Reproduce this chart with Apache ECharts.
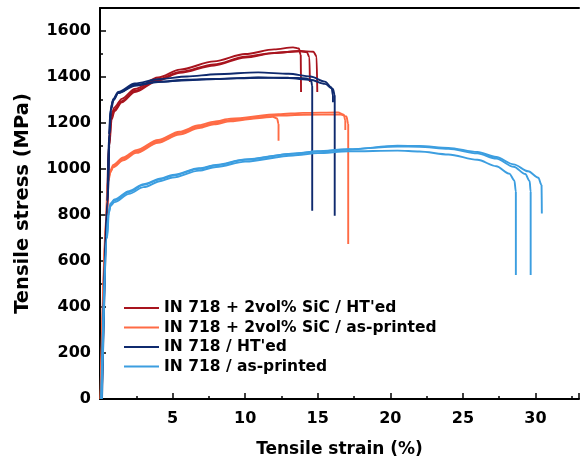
<!DOCTYPE html>
<html><head><meta charset="utf-8">
<script src="https://cdn.jsdelivr.net/npm/echarts@6/dist/echarts.min.js"></script>
<style>html,body{margin:0;padding:0;background:#fff}#c{width:582px;height:463px}</style>
</head><body><div id="c"></div>
<script>
const legendNames = ["IN 718 + 2vol% SiC / HT'ed","IN 718 + 2vol% SiC / as-printed","IN 718 / HT'ed","IN 718 / as-printed"];
const xTicks = [5,10,15,20,25,30];
const yTicks = [0,200,400,600,800,1000,1200,1400,1600];

// IN 718 + 2vol% SiC / HT'ed
const sicHT1 = [[0.05,0],[0.45,800],[0.6,1100],[0.75,1230],[1,1268],[1.5,1305],[2.4,1348],[4,1398],[5.5,1432],[7.86,1468],[10,1500],[12,1520],[13.3,1529],[13.7,1524],[13.83,1495],[13.85,1335]];
const sicHT2 = [[0.08,0],[0.48,800],[0.62,1100],[0.78,1220],[1,1258],[1.5,1295],[2.4,1340],[4,1390],[5.5,1422],[7.86,1455],[10,1488],[12,1505],[13.8,1512],[14.25,1508],[14.43,1485],[14.46,1378]];
const sicHT3 = [[0.1,0],[0.5,800],[0.64,1100],[0.8,1215],[1,1252],[1.5,1290],[2.4,1335],[4,1385],[5.5,1418],[7.86,1450],[10,1485],[12,1504],[13.8,1513],[14.7,1510],[14.92,1490],[14.97,1335]];
// IN 718 + 2vol% SiC / as-printed
const sicAP1 = [[0.03,0],[0.42,800],[0.52,940],[0.7,985],[0.91,1008],[1.6,1038],[2.5,1070],[4,1114],[5.46,1150],[6.83,1178],[7.86,1194],[9,1207],[11,1222],[11.9,1227],[12.2,1220],[12.3,1195],[12.3,1123]];
const sicAP2 = [[0.05,0],[0.44,800],[0.54,950],[0.72,995],[0.91,1018],[1.6,1050],[2.5,1082],[4,1126],[5.46,1162],[6.83,1190],[7.86,1206],[9,1219],[12.3,1238],[14,1244],[16.4,1246],[16.8,1236],[16.9,1210],[16.9,1170]];
const sicAP3 = [[0.07,0],[0.46,800],[0.56,945],[0.74,990],[0.91,1012],[1.6,1044],[2.5,1076],[4,1120],[5.46,1156],[6.83,1184],[7.86,1200],[9,1213],[12.3,1232],[14,1236],[16.6,1237],[16.98,1228],[17.1,1195],[17.1,674]];
// IN 718 / HT'ed
const htA = [[0.1,0],[0.5,860],[0.62,1150],[0.72,1255],[0.9,1300],[1.25,1330],[2.4,1366],[4,1380],[6,1388],[8,1392],[10.9,1398],[13,1397],[14.2,1394],[14.55,1385],[14.62,1360],[14.62,818]];
const htB = [[0.12,0],[0.52,860],[0.64,1150],[0.74,1262],[0.92,1305],[1.25,1335],[2.4,1372],[4,1390],[6,1402],[8,1412],[10.9,1420],[13,1414],[14.5,1402],[15.5,1380],[15.95,1355],[16.05,1320],[16.05,1290]];
const htC = [[0.14,0],[0.54,860],[0.66,1150],[0.76,1258],[0.94,1300],[1.25,1330],[2.4,1362],[4,1378],[6,1386],[8,1391],[10.9,1397],[13,1395],[14.5,1388],[15.5,1370],[16.05,1348],[16.17,1320],[16.17,797]];
// IN 718 / as-printed
const apA = [[0.08,0],[0.45,700],[0.57,800],[0.7,838],[1,856],[2,892],[3,921],[4.2,948],[5,963],[6.83,993],[8,1009],[10,1032],[13.3,1059],[15,1069],[17.1,1077],[20.5,1080],[22,1076],[24,1063],[26,1040],[27.3,1012],[28.2,980],[28.55,950],[28.65,900],[28.65,539]];
const apB = [[0.1,0],[0.47,700],[0.59,810],[0.72,850],[1,868],[2,904],[3,934],[4.2,959],[5,974],[6.83,1003],[8,1018],[10,1042],[13.3,1067],[15,1077],[17.1,1086],[20.5,1098],[22,1097],[24,1088],[26,1068],[27.3,1045],[28.5,1010],[29.3,978],[29.6,948],[29.67,900],[29.67,539]];
const apC = [[0.12,0],[0.49,700],[0.61,808],[0.74,846],[1,864],[2,900],[3,931],[4.2,956],[5,971],[6.83,1001],[8,1016],[10,1040],[13.3,1066],[15,1076],[17.1,1085],[20.5,1101],[22,1100],[24,1092],[26,1074],[27.3,1052],[28.5,1020],[29.5,990],[30.2,962],[30.42,930],[30.44,807]];

const colors = ['#a8141e','#ff6b45','#0f2a6e','#3c9ee0'];
const groups = [[sicHT1,sicHT2,sicHT3],[sicAP1,sicAP2,sicAP3],[htA,htB,htC],[apA,apB,apC]];
const series = [];
groups.forEach((g,gi)=>{
  g.forEach(d=>{
    series.push({type:'line',name:legendNames[gi],data:d,showSymbol:false,symbol:'none',
      smooth:0.3,smoothMonotone:'x',lineStyle:{color:colors[gi],width:1.9},itemStyle:{color:colors[gi]},z:2+gi});
  });
});
const font = '"DejaVu Sans", sans-serif';
const chart = echarts.init(document.getElementById('c'));
chart.setOption({
  animation:false,
  grid:{left:100,top:8,right:0,bottom:63},
  legend:{data:legendNames,left:119,top:295,orient:'vertical',itemGap:3.5,itemWidth:35,itemHeight:18,
    icon:'path://M0,8 L35,8 L35,10 L0,10 Z',
    textStyle:{fontFamily:font,fontWeight:'bold',fontSize:15.5,color:'#000'}},
  xAxis:[{type:'value',min:0,max:33,interval:5,
    name:'Tensile strain (%)',nameLocation:'middle',nameGap:42,
    nameTextStyle:{fontFamily:font,fontWeight:'bold',fontSize:17,color:'#000'},
    axisLine:{show:true,lineStyle:{color:'#000',width:2}},
    axisTick:{show:true,inside:true,length:6,lineStyle:{color:'#000',width:1.5}},
    minorTick:{show:true,splitNumber:2,length:3,lineStyle:{color:'#000',width:1.5}},
    splitLine:{show:false},
    axisLabel:{fontFamily:font,fontWeight:'bold',fontSize:16,color:'#000',margin:12,
      formatter:v=>xTicks.includes(v)?String(v):''}},
    {type:'value',position:'top',min:0,max:33,axisLine:{show:true,lineStyle:{color:'#000',width:2}},
     axisTick:{show:false},axisLabel:{show:false},splitLine:{show:false}}],
  yAxis:{type:'value',min:0,max:1700,interval:200,
    name:'Tensile stress (MPa)',nameLocation:'middle',nameGap:67,
    nameTextStyle:{fontFamily:font,fontWeight:'bold',fontSize:19.5,color:'#000'},
    axisLine:{show:true,lineStyle:{color:'#000',width:2}},
    axisTick:{show:true,inside:true,length:6,lineStyle:{color:'#000',width:1.5}},
    minorTick:{show:true,splitNumber:2,length:3,lineStyle:{color:'#000',width:1.5}},
    splitLine:{show:false},
    axisLabel:{fontFamily:font,fontWeight:'bold',fontSize:16,color:'#000',margin:9,
      formatter:v=>yTicks.includes(v)?String(v):''}},
  series:series
});
</script></body></html>
